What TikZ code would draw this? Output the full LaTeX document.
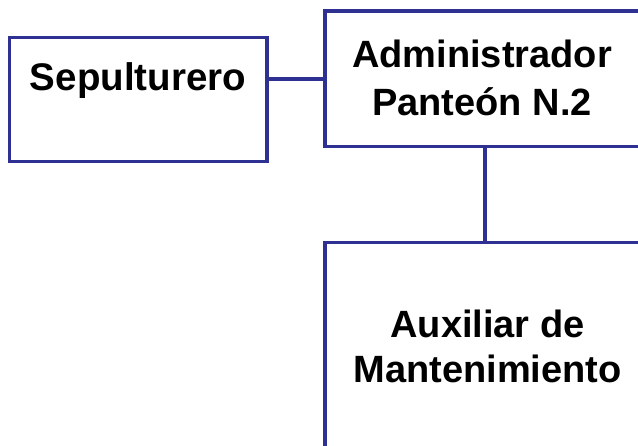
\documentclass[tikz,border=0pt]{standalone}
\usepackage{fontspec}
\setmainfont{Liberation Sans}
\definecolor{orgblue}{RGB}{46,49,146}
\begin{document}
\begin{tikzpicture}[x=1pt,y=-1pt,
  orgbox/.style={draw=orgblue,line width=3.3pt,fill=white,inner sep=0pt,rectangle},
  orgtext/.style={inner sep=0pt,align=center,text=black},
  orgline/.style={draw=orgblue,line width=3.3pt}]
\useasboundingbox (0,0) rectangle (638,445);
\clip (0,0) rectangle (638,445);
\fill[white] (0,0) rectangle (638,445);
% boxes
\node[orgbox,minimum width=257.5pt,minimum height=124pt] (sep) at (138.25,99.5) {};
\node[orgbox,minimum width=316pt,minimum height=135.5pt] (adm) at (483,78.75) {};
\node[orgbox,minimum width=316pt,minimum height=210pt] (aux) at (483,347.5) {};
% texts
\node[orgtext,anchor=base,font=\bfseries\fontsize{38.5}{46}\selectfont] (sept) at (138,90.5) {Sepulturero};
\node[orgtext,font=\bfseries\fontsize{38}{48}\selectfont] (admt) at (482,78) {Administrador\\Panteón N.2};
\node[orgtext,font=\bfseries\fontsize{38}{45}\selectfont] (auxt) at (487.5,346.5) {Auxiliar de\\Mantenimiento};
% connectors
\draw[orgline] (sep.east |- 0,79) -- (adm.west |- 0,79);
\draw[orgline] (adm.south -| 485,0) -- (aux.north -| 485,0);
\end{tikzpicture}
\end{document}
